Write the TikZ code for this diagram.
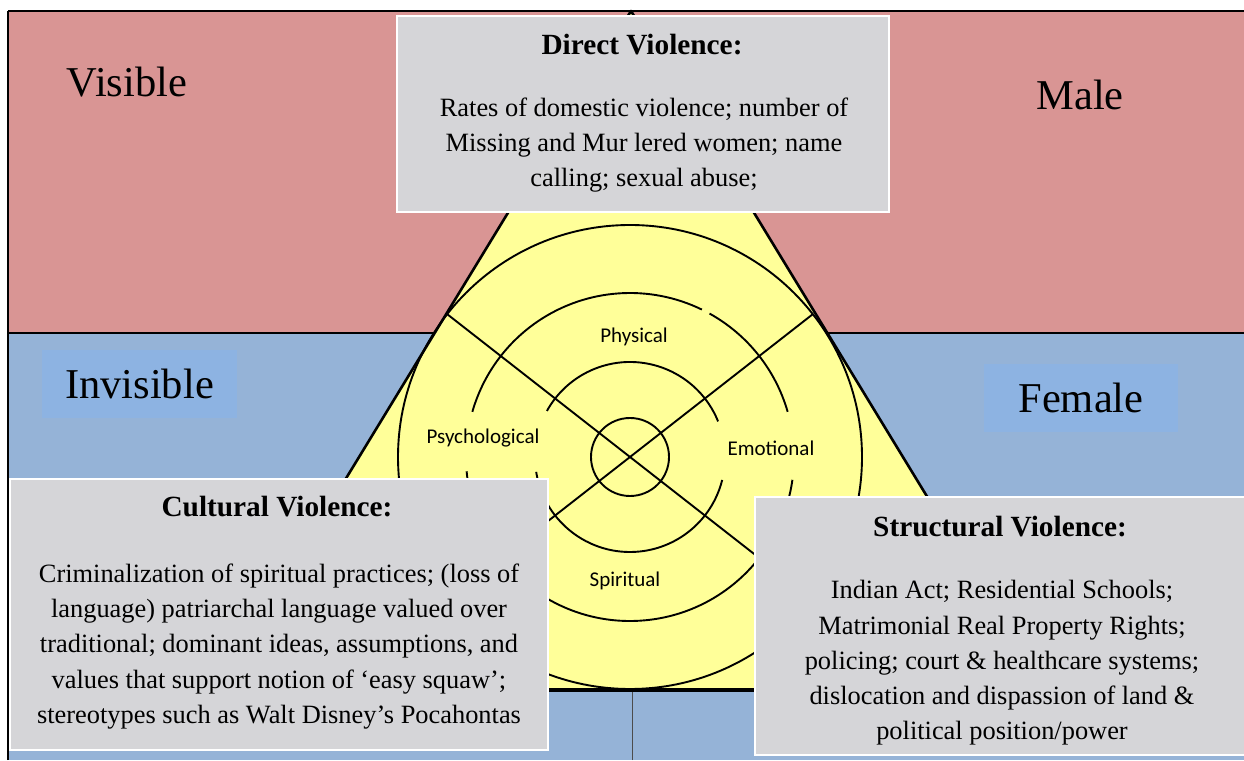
\documentclass[tikz,border=0pt]{standalone}
\usepackage{fontspec}
\setmainfont{Liberation Serif}
\newfontfamily\wheelfont{Carlito}
\usepackage{tikz}
\definecolor{visred}{RGB}{217,149,148}
\definecolor{invblue}{RGB}{149,179,215}
\definecolor{tagblue}{RGB}{141,179,226}
\definecolor{wheelyellow}{RGB}{255,255,153}
\definecolor{marble}{RGB}{213,213,216}

\begin{document}
\begin{tikzpicture}[x=1pt,y=1pt,
    ring/.style={line width=1.9pt},
    sector/.style={font=\wheelfont\fontsize{21}{25}\selectfont, inner sep=0pt},
    bigword/.style={font=\fontsize{42.5}{50}\selectfont, inner sep=0pt},
    tagbox/.style={fill=tagblue, minimum height=68pt},
    marblebox/.style={fill=marble, draw=white, line width=2pt, inner sep=0pt},
    boxtitle/.style={font=\bfseries\fontsize{29.3}{34}\selectfont, inner sep=0pt},
    boxtext/.style={font=\fontsize{26.4}{35.3}\selectfont, align=center, inner sep=0pt}]
		\useasboundingbox (0,0) rectangle (1244,760);
		% visible / invisible halves
		\fill[visred] (8,427) rectangle (1244,749);
		\fill[invblue] (8,0) rectangle (1244,427);
		\draw[line width=1.6pt] (8,749) -- (1244,749);
		\draw[line width=1.6pt] (8,0) -- (8,749);
		\draw[line width=1.2pt] (8,427) -- (1244,427);
		\draw[line width=0.8pt, black!70] (632,0) -- (632,749);

		% triangle
		\coordinate (apex) at (631,749);
		\coordinate (baseL) at (217,70);
		\coordinate (baseR) at (1045,70);
		\fill[wheelyellow] (baseL) -- (apex) -- (baseR) -- cycle;
		\draw[line width=2.6pt, line join=round] (baseL) -- (apex) -- (baseR);
		\draw[line width=4pt] (baseL) -- (baseR);

		% wheel
		\coordinate (hub) at (630,303);
		\draw[ring] (hub) circle (232);
		\draw[ring] (hub) circle (39);
		\draw[ring] (hub) ++(22:95) arc[start angle=22, end angle=151, radius=95];
		\draw[ring] (hub) ++(189:95) arc[start angle=189, end angle=346, radius=95];
		\draw[ring] (hub) ++(16:164) arc[start angle=16, end angle=61, radius=164];
		\draw[ring] (hub) ++(64:164) arc[start angle=64, end angle=164, radius=164];
		\draw[ring] (hub) ++(185:164) arc[start angle=185, end angle=352, radius=164];
		\draw[ring] (hub) ++(142:232) -- ++(322:464);
		\draw[ring] (hub) ++(38:232) -- ++(218:464);

		\node[sector] (physical) at (634,423) {Physical};
		\node[sector] (psych) at (483,322) {Psychological};
		\node[sector] (emotional) at (771,312) {Emotional};
		\node[sector] (spiritual) at (625,179) {Spiritual};

		% corner words
		\node[bigword] (visible) at (127,678) {Visible};
		\node[bigword] (male) at (1080,665) {Male};
		\node[tagbox, bigword, minimum width=195pt, minimum height=68pt] (invisible) at (139.5,376) {Invisible};
		\node[tagbox, bigword, minimum width=194pt, minimum height=68pt] (female) at (1081,362) {Female};

		% violence boxes
		\node[marblebox, minimum width=492pt, minimum height=196pt] (direct) at (643,646) {};
		\node[boxtitle] (directTitle) at (642,715) {Direct Violence:};
		\node[boxtext] (directText) at (644,615) {Rates of domestic violence; number of\\
			Missing and Mur lered women; name\\
			calling; sexual abuse;};

		\node[marblebox, minimum width=538pt, minimum height=271pt] (cultural) at (279,145.5) {};
		\node[boxtitle] (culturalTitle) at (277,253) {Cultural Violence:};
		\node[boxtext] (culturalText) at (279,113.5) {Criminalization of spiritual practices; (loss of\\
			language) patriarchal language valued over\\
			traditional; dominant ideas, assumptions, and\\
			values that support notion of ‘easy squaw’;\\
			stereotypes such as Walt Disney’s Pocahontas};

		\node[marblebox, minimum width=495pt, minimum height=258pt] (structural) at (1002.5,134) {};
		\node[boxtitle] (structuralTitle) at (1000,233) {Structural Violence:};
		\node[boxtext] (structuralText) at (1002,97) {Indian Act; Residential Schools;\\
			Matrimonial Real Property Rights;\\
			policing; court \& healthcare systems;\\
			dislocation and dispassion of land \&\\
			political position/power};
	\end{tikzpicture}
\end{document}
